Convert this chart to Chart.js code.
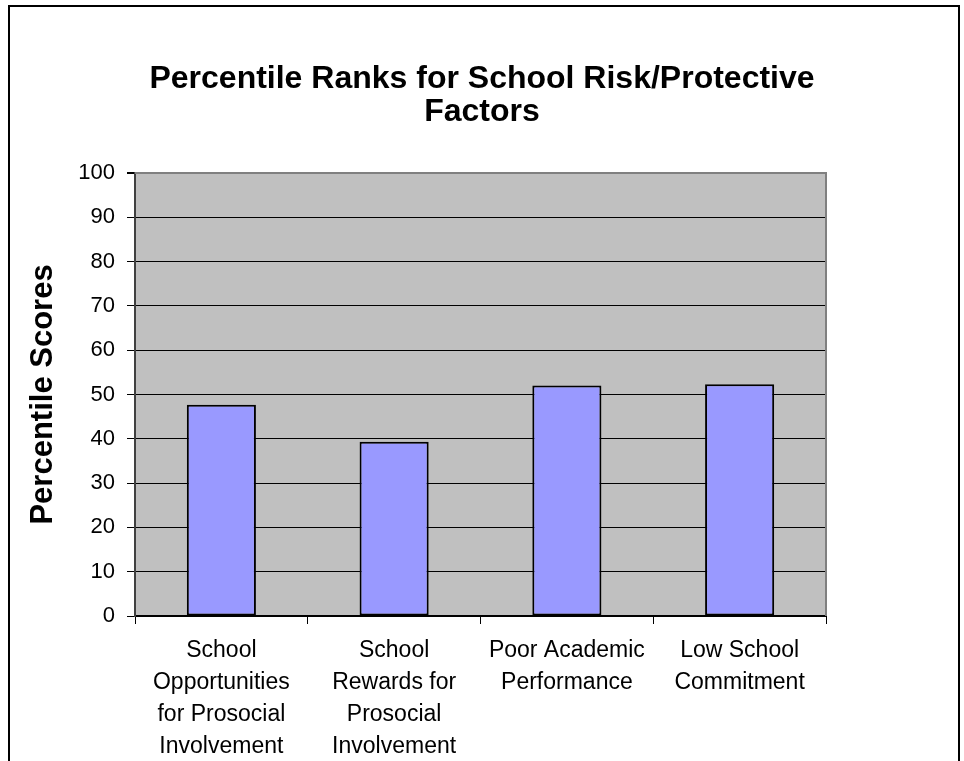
<!DOCTYPE html>
<html>
<head>
<meta charset="utf-8">
<script src="https://cdn.jsdelivr.net/npm/chart.js@4/dist/chart.umd.min.js"></script>
<style>
  html, body { margin: 0; padding: 0; background: #fff; }
  #wrap { width: 964px; height: 761px; position: relative; }
</style>
</head>
<body>
<div id="wrap"><canvas id="chart" width="964" height="761"></canvas></div>
<script>
/* ---------- Data ---------- */
const categories = [
  ['School', 'Opportunities', 'for Prosocial', 'Involvement'],
  ['School', 'Rewards for', 'Prosocial', 'Involvement'],
  ['Poor Academic', 'Performance'],
  ['Low School', 'Commitment']
];
const percentileScores = [47.7, 39.3, 52.0, 52.3];
const titleLines = ['Percentile Ranks for School Risk/Protective', 'Factors'];
const yAxisTitle = 'Percentile Scores';
const yMin = 0, yMax = 100, yStep = 10;

const FONT = "'Liberation Sans', Arial, sans-serif";

/* ---------- Plot background + frame ---------- */
const plotDecor = {
  id: 'plotDecor',
  beforeDraw(chart) {
    const { ctx, chartArea: a } = chart;
    ctx.save();
    // outer frame (bottom edge runs off the picture)
    ctx.strokeStyle = '#000';
    ctx.lineWidth = 2;
    ctx.strokeRect(9, 6, 950, 820);
    // grey plot area
    ctx.fillStyle = '#c0c0c0';
    ctx.fillRect(a.left, a.top, a.right - a.left, a.bottom - a.top);
    ctx.restore();
  },
  beforeDatasetsDraw(chart) {
    const { ctx, chartArea: a } = chart;
    ctx.save();
    ctx.strokeStyle = '#808080';
    ctx.lineWidth = 2;
    ctx.beginPath();
    ctx.moveTo(a.left, a.top);
    ctx.lineTo(a.right, a.top);
    ctx.lineTo(a.right, a.bottom);
    ctx.stroke();
    ctx.restore();
  }
};

new Chart(document.getElementById('chart'), {
  type: 'bar',
  data: {
    labels: categories,
    datasets: [{
      data: percentileScores,
      backgroundColor: '#9999ff',
      borderColor: '#000',
      borderWidth: 2,
      borderSkipped: false,
      barPercentage: 0.4,
      categoryPercentage: 1
    }]
  },
  options: {
    responsive: false,
    animation: false,
    layout: { padding: 0 },
    plugins: {
      legend: { display: false },
      tooltip: { enabled: false },
      title: {
        display: true,
        text: titleLines,
        color: '#000',
        font: { family: FONT, size: 32, weight: 'bold', lineHeight: 1.03 },
        padding: { top: 63, bottom: 44 }
      }
    },
    scales: {
      x: {
        grid: {
          offset: true,
          drawOnChartArea: false,
          tickLength: 8,
          tickColor: '#000',
          tickWidth: 1
        },
        border: { color: '#000', width: 2 },
        ticks: {
          color: '#000',
          padding: 11,
          maxRotation: 0,
          autoSkip: false,
          font: { family: FONT, size: 23, lineHeight: 1.39 }
        },
        afterFit: s => { s.height = 145; }
      },
      y: {
        min: yMin,
        max: yMax,
        ticks: {
          stepSize: yStep,
          color: '#000',
          padding: 12,
          font: { family: FONT, size: 22 }
        },
        grid: {
          color: c => (c.tick && c.tick.value === yMax) ? '#808080' : '#000',
          lineWidth: c => (c.tick && c.tick.value === yMax) ? 2 : 1,
          tickColor: '#000',
          tickLength: 8
        },
        border: { color: '#404040', width: 2 },
        title: {
          display: true,
          text: yAxisTitle,
          color: '#000',
          font: { family: FONT, size: 31, weight: 'bold', lineHeight: 1.2 },
          padding: { top: 25, bottom: 0 }
        },
        afterFit: s => { s.width = 135; }
      },
      yRight: {
        position: 'right',
        display: true,
        grid: { display: false },
        border: { display: false },
        ticks: { display: false },
        afterFit: s => { s.width = 138; }
      }
    }
  },
  plugins: [plotDecor]
});
</script>
</body>
</html>
